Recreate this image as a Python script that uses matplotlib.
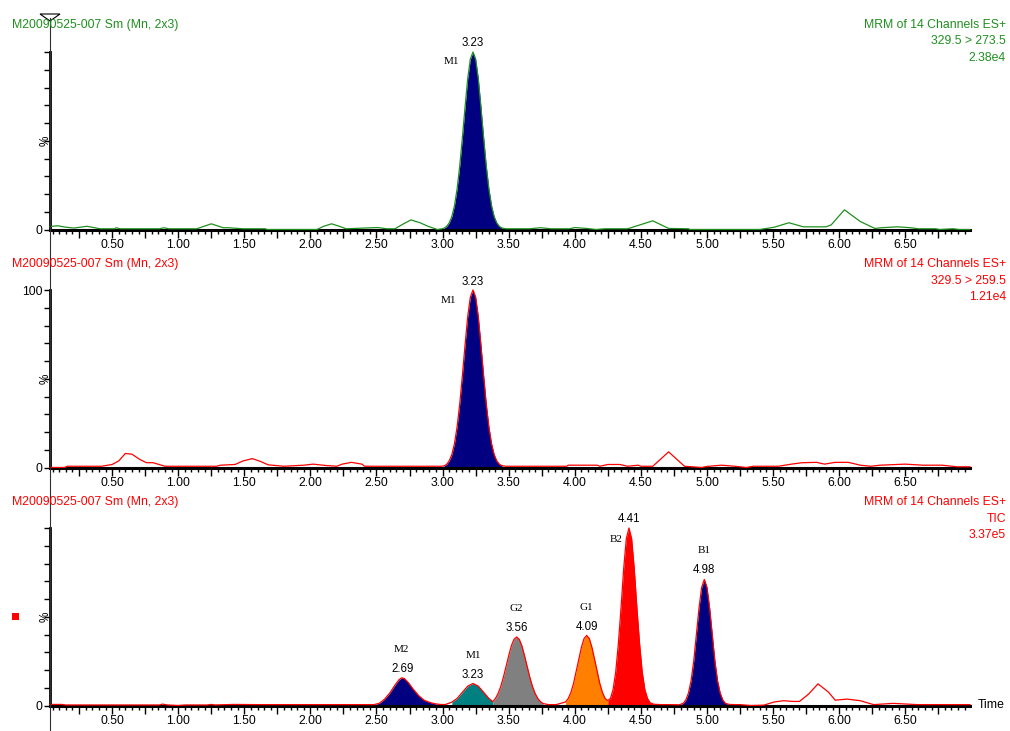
import matplotlib
matplotlib.use('Agg')
import matplotlib.pyplot as plt
from matplotlib.ticker import MultipleLocator, FuncFormatter
from matplotlib.lines import Line2D
from matplotlib.patches import Polygon, Rectangle

plt.rcParams['font.family'] = ['Liberation Sans', 'DejaVu Sans']

# ---------------- data ----------------
sample_label = "M20090525-007 Sm (Mn, 2x3)"
p1_header = ["MRM of 14 Channels ES+", "329.5 > 273.5", "2.38e4"]
p2_header = ["MRM of 14 Channels ES+", "329.5 > 259.5", "1.21e4"]
p3_header = ["MRM of 14 Channels ES+", "TIC", "3.37e5"]

# panel 1 trace (time min, relative intensity %)
p1_time = [0.03, 0.09, 0.14, 0.21, 0.26, 0.31, 0.36, 0.41, 0.52, 0.53, 0.56, 0.86, 0.89, 0.93,
           1.14, 1.25, 1.34, 1.38, 1.49, 1.66, 1.67, 1.85, 1.96, 2.05, 2.10, 2.16, 2.22, 2.27,
           2.40, 2.51, 2.58, 2.64, 2.69, 2.76, 2.83, 2.89, 2.96, 2.99,
           3.01, 3.03, 3.05, 3.07, 3.09, 3.11, 3.13, 3.15, 3.17, 3.19, 3.21, 3.23,
           3.25, 3.27, 3.29, 3.31, 3.33, 3.35, 3.37, 3.39, 3.41, 3.43, 3.45,
           3.48, 3.66, 3.74, 3.82, 3.87, 3.96, 4.00, 4.09, 4.16, 4.23,
           4.40, 4.59, 4.71, 4.86, 4.87, 5.40, 5.51, 5.62, 5.73, 5.90, 5.94, 6.04, 6.16,
           6.27, 6.32, 6.44, 6.54, 6.60, 6.73, 6.76, 6.86, 6.91, 6.99]
p1_signal = [1.7, 2.1, 1.4, 0.8, 1.3, 1.8, 1.1, 0.4, 0.4, 1.0, 0.4, 0.4, 1.0, 0.4,
             0.4, 3.2, 1.0, 1.0, 0.4, 0.4, 0.0, 0.0, 0.0, 0.0, 1.8, 3.2, 1.8, 0.4,
             0.8, 1.1, 0.4, 0.4, 2.6, 5.4, 3.8, 1.8, 0.0, 0.3,
             0.7, 1.7, 3.7, 7.3, 13.5, 23.0, 36.0, 52.0, 69.0, 85.0, 96.0, 100.0,
             96.0, 85.0, 69.0, 52.0, 36.0, 23.0, 13.5, 7.3, 3.7, 1.7, 0.8,
             0.4, 0.4, 1.0, 0.4, 0.4, 0.4, 1.1, 0.6, 0.0, 0.4,
             0.4, 4.9, 0.6, 0.4, 0.0, 0.0, 1.3, 3.8, 1.5, 1.5, 2.6, 11.1, 4.5,
             0.6, 1.0, 1.5, 1.0, 0.4, 0.4, 0.0, 0.4, 0.0, 0.0]

# panel 2 trace
p2_time = [0.03, 0.14, 0.16, 0.42, 0.50, 0.55, 0.60, 0.65, 0.71, 0.76, 0.81, 0.90,
           1.29, 1.32, 1.43, 1.49, 1.56, 1.62, 1.68, 1.80, 1.95, 2.02, 2.12, 2.20, 2.24,
           2.31, 2.39, 2.41, 2.99,
           3.01, 3.03, 3.05, 3.07, 3.09, 3.11, 3.13, 3.15, 3.17, 3.19, 3.21, 3.23,
           3.25, 3.27, 3.29, 3.31, 3.33, 3.35, 3.37, 3.39, 3.41, 3.43, 3.45,
           3.48, 3.94, 3.95, 4.17, 4.19, 4.25, 4.34, 4.40, 4.48, 4.50, 4.59,
           4.71, 4.83, 4.96, 5.00, 5.11, 5.21, 5.30, 5.35, 5.54, 5.64, 5.72, 5.83, 5.89,
           5.97, 6.07, 6.16, 6.24, 6.31, 6.50, 6.63, 6.78, 6.89, 6.99]
p2_signal = [0.0, 0.0, 0.7, 0.7, 1.7, 3.7, 7.9, 7.5, 4.5, 2.7, 2.7, 0.7,
             0.7, 1.3, 1.7, 3.7, 5.0, 3.5, 1.5, 0.7, 1.3, 1.9, 1.1, 0.7, 1.9,
             2.9, 1.9, 0.7, 0.7,
             0.9, 1.7, 3.7, 7.3, 13.5, 23.0, 36.0, 52.0, 69.0, 85.0, 96.0, 100.0,
             96.0, 85.0, 69.0, 52.0, 36.0, 23.0, 13.5, 7.3, 3.7, 1.8, 1.0,
             0.7, 0.7, 1.3, 1.3, 0.7, 1.7, 1.7, 0.7, 1.3, 0.7, 0.7,
             8.8, 0.7, 0.0, 0.6, 1.3, 0.7, 0.0, 0.7, 0.7, 1.9, 2.7, 2.9, 1.9,
             2.9, 2.9, 1.3, 0.7, 1.3, 1.9, 1.3, 1.3, 0.4, 0.4]

# panel 3 trace (TIC)
p3_time = [0.03, 0.12, 0.15, 0.86, 0.88, 0.92, 1.00, 1.05, 1.22, 1.25, 1.28, 1.42, 1.60,
           2.00, 2.30, 2.45,
           2.48, 2.52, 2.56, 2.60, 2.64, 2.67, 2.69, 2.71, 2.74, 2.78, 2.82, 2.86, 2.90, 2.94,
           2.98, 3.02,
           3.07, 3.11, 3.15, 3.19, 3.23, 3.27, 3.31, 3.35,
           3.38, 3.40, 3.42, 3.44, 3.46, 3.48, 3.50, 3.52, 3.54, 3.56, 3.58, 3.60, 3.62, 3.64,
           3.66, 3.68, 3.70, 3.72, 3.74, 3.76, 3.80, 3.86,
           3.93, 3.95, 3.97, 3.99, 4.01, 4.03, 4.05, 4.07, 4.09, 4.11, 4.13, 4.15, 4.17, 4.19,
           4.21, 4.23,
           4.25, 4.27, 4.29, 4.31, 4.33, 4.35, 4.37, 4.39, 4.41, 4.43, 4.45, 4.47, 4.49, 4.51,
           4.53, 4.55, 4.57, 4.60, 4.65, 4.72,
           4.79, 4.82, 4.84, 4.86, 4.88, 4.90, 4.92, 4.94, 4.96, 4.98, 5.00, 5.02, 5.04, 5.06,
           5.08, 5.10, 5.12, 5.14, 5.17, 5.21,
           5.25, 5.33, 5.43, 5.51, 5.58, 5.65, 5.70, 5.77, 5.84, 5.92, 5.97,
           6.06, 6.16, 6.26, 6.41, 6.59, 6.99]
p3_signal = [0.6, 0.6, 0.3, 0.3, 0.8, 0.3, 0.0, 0.3, 0.3, 0.6, 0.3, 0.6, 0.5,
             0.5, 0.5, 0.5,
             0.5, 1.2, 3.5, 7.0, 11.5, 14.5, 15.6, 15.2, 13.0, 9.0, 5.5, 3.0, 1.8, 1.0,
             0.6, 0.5,
             1.9, 4.0, 7.5, 10.9, 12.4, 10.9, 7.5, 4.0,
             2.2, 4.0, 6.8, 10.7, 15.9, 21.9, 28.0, 33.6, 37.3, 38.6, 37.3, 33.6, 28.0, 21.9,
             15.9, 10.7, 6.8, 4.0, 2.2, 1.1, 0.5, 0.5,
             2.0, 3.9, 7.2, 12.2, 19.0, 26.0, 32.7, 37.7, 39.5, 37.7, 32.7, 26.0, 19.0, 12.2,
             7.2, 3.9,
             2.8, 4.0, 9.0, 19.0, 35.0, 55.0, 77.0, 94.0, 100.0, 94.0, 77.0, 55.0, 35.0, 19.0,
             9.0, 4.0, 1.5, 0.7, 0.5, 0.5,
             0.4, 1.2, 3.1, 7.0, 14.0, 25.0, 40.0, 55.0, 66.6, 71.0, 66.6, 55.0, 40.0, 25.0,
             14.0, 7.0, 3.1, 1.2, 0.6, 0.5,
             0.5, 0.0, 0.2, 2.0, 2.7, 2.3, 2.3, 6.5, 12.2, 7.5, 3.0,
             3.6, 2.7, 0.5, 1.2, 0.5, 0.5]

# integrated peaks: name, retention time label, start, end, fill colour
p1_peaks = [("M1", "3.23", 3.01, 3.45, "#000080")]
p2_peaks = [("M1", "3.23", 3.01, 3.45, "#000080")]
p3_peaks = [("M2", "2.69", 2.48, 2.98, "#000080"),
            ("M1", "3.23", 3.07, 3.38, "#008080"),
            ("G2", "3.56", 3.38, 3.76, "#808080"),
            ("G1", "4.09", 3.93, 4.25, "#ff8000"),
            ("B2", "4.41", 4.25, 4.60, "#ff0000"),
            ("B1", "4.98", 4.79, 5.21, "#000080")]

GREEN = "#1f8f1f"
RED = "#ff0000"

W, H = 1010, 731
fig = plt.figure(figsize=(W / 100, H / 100), dpi=100)
fig.patch.set_facecolor('white')


def fx(px):
    return px / W


def fy(py):
    return 1 - py / H


def make_panel(y0, y100, show100):
    ax = fig.add_axes([fx(50), fy(y0), 920 / W, (y0 - y100) / H])
    ax.set_xlim(0.03, 6.99)
    ax.set_ylim(0, 100)
    for s in ('top', 'right'):
        ax.spines[s].set_visible(False)
    ax.spines['left'].set_linewidth(2.0)
    ax.spines['bottom'].set_linewidth(2.2)
    ax.patch.set_alpha(0)
    ax.xaxis.set_major_locator(MultipleLocator(0.25))
    ax.xaxis.set_minor_locator(MultipleLocator(0.05))
    ax.xaxis.set_major_formatter(FuncFormatter(
        lambda v, p: ("%.2f" % v) if abs(v * 2 - round(v * 2)) < 1e-6 and v > 0.2 else ""))
    ax.yaxis.set_major_locator(MultipleLocator(10))
    ax.yaxis.set_major_formatter(FuncFormatter(
        lambda v, p: "0" if abs(v) < 1e-6 else ("100" if (show100 and abs(v - 100) < 1e-6) else "")))
    ax.tick_params(axis='x', which='major', direction='out', length=6, width=1, pad=1,
                   labelsize=8.8, colors='black')
    ax.tick_params(axis='x', which='minor', direction='out', length=3, width=1)
    ax.tick_params(axis='y', which='major', direction='out', length=4, width=1, pad=1.5,
                   labelsize=8.8)
    ymid = y0 - (y0 - y100) / 2
    fig.text(fx(45.5), fy(ymid), "%", rotation=90, ha='center', va='center', fontsize=8.5)
    return ax


def draw_trace(ax, t, v, color, peaks, labels):
    for name, rt, start, end, fc in peaks:
        mask = [(start - 1e-9) <= ti <= (end + 1e-9) for ti in t]
        ax.fill_between(t, 0, v, where=mask, color=fc, lw=0, clip_on=False, zorder=2)
    ax.plot(t, v, color=color, lw=0.9, clip_on=False, zorder=3)
    for (name, rt, start, end, fc), (dxn, dyn, dxr, dyr) in zip(peaks, labels):
        idx = max(range(len(t)), key=lambda i: v[i] if start <= t[i] <= end else -1)
        xy = (t[idx], v[idx])
        ax.annotate(rt, xy=xy, xytext=(dxr, dyr), textcoords='offset pixels', ha='center',
                    va='center', fontsize=8.3, annotation_clip=False)
        ax.annotate(name, xy=xy, xytext=(dxn, dyn), textcoords='offset pixels', ha='center',
                    va='center', fontsize=8.0, family='Liberation Serif', annotation_clip=False)


def headers(y, color, lines):
    fig.text(fx(12), fy(y), sample_label, color=color, fontsize=8.8, ha='left', va='center')
    for i, s in enumerate(lines):
        fig.text(fx(1006), fy(y + 16.5 * i), s, color=color, fontsize=8.8, ha='right',
                 va='center')


ax1 = make_panel(229.5, 52, False)
draw_trace(ax1, p1_time, p1_signal, GREEN, p1_peaks, [(-22, -10, 0, 9)])
headers(25, GREEN, p1_header)

ax2 = make_panel(467.5, 290, True)
draw_trace(ax2, p2_time, p2_signal, RED, p2_peaks, [(-25, -10, 0, 8)])
headers(264, RED, p2_header)

ax3 = make_panel(705.5, 528, False)
draw_trace(ax3, p3_time, p3_signal, RED, p3_peaks,
           [(0, 28, 1, 8.5), (0, 28, 0, 8), (0, 28.5, 0, 9), (0, 28, 0, 8.5),
            (-13, -11, 0, 9), (0, 28.5, 0, 9)])
headers(502, RED, p3_header)
ax3.text(1.008, 0.0, "Time", transform=ax3.transAxes, ha='left', va='center', fontsize=8.8)

# thin cursor line with triangle marker and the red square marker
fig.add_artist(Line2D([fx(50), fx(50)], [fy(18), fy(731)], color='#303030', lw=0.8))
fig.add_artist(Polygon([[fx(40), fy(14)], [fx(60), fy(14)], [fx(50), fy(21)]], closed=True,
                       fill=False, edgecolor='black', lw=0.8))
fig.add_artist(Rectangle((fx(12), fy(620)), 7 / W, 7 / H, color=RED, lw=0))

fig.savefig('out.png', dpi=100, facecolor='white')
